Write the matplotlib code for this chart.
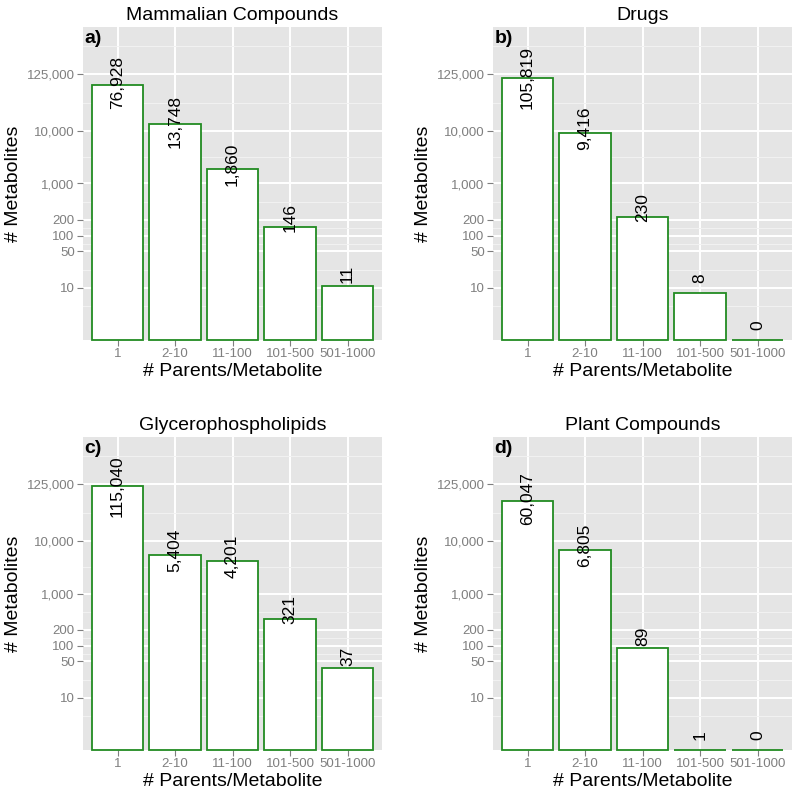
import numpy as np
import matplotlib
matplotlib.use("Agg")
import matplotlib.pyplot as plt
from matplotlib.ticker import FixedLocator, NullFormatter

plt.rcParams['font.family'] = ['Liberation Sans', 'DejaVu Sans']

categories = ["1", "2-10", "11-100", "101-500", "501-1000"]
titles = ["Mammalian Compounds", "Drugs", "Glycerophospholipids", "Plant Compounds"]
letters = ["a)", "b)", "c)", "d)"]
mammalian = [76928, 13748, 1860, 146, 11]
drugs = [105819, 9416, 230, 8, 0]
glycero = [115040, 5404, 4201, 321, 37]
plant = [60047, 6805, 89, 1, 0]
y_ticks = [10, 50, 100, 200, 1000, 10000, 125000]

all_counts = [mammalian, drugs, glycero, plant]

W, H = 800, 796
fig = plt.figure(figsize=(W / 100, H / 100), dpi=100)

# panel boxes in pixels: left, top, right, bottom
boxes = [(83, 27, 382, 340), (493, 27, 792, 340),
         (83, 437, 382, 750), (493, 437, 792, 750)]

green = "#228B22"
grey_txt = "#7F7F7F"
label_size = 12.5

# ggplot-style minor breaks (midpoints in log space)
lt = np.log10(y_ticks)
mids = list((lt[:-1] + lt[1:]) / 2)
mids = [lt[0] - (lt[1] - lt[0]) / 2] + mids + [lt[-1] + (lt[-1] - lt[-2]) / 2]
minor = [10 ** m for m in mids]

for i, counts in enumerate(all_counts):
    l, t, r, b = boxes[i]
    ax = fig.add_axes([l / W, 1 - b / H, (r - l) / W, (b - t) / H])
    ax.set_facecolor("#E5E5E5")
    for s in ax.spines.values():
        s.set_visible(False)

    x = np.arange(len(categories))
    vals = np.maximum(np.array(counts, dtype=float), 1)
    ax.set_yscale("log")
    ax.bar(x, vals - 1, bottom=1, width=0.9, color="white",
           edgecolor=green, linewidth=1.3, zorder=3, clip_on=False)

    # labels were right-padded to 7 chars in the original, which shifts short ones up
    for xi, v, c in zip(x, vals, counts):
        txt = f"{c:,}"
        shift = (7 - len(txt)) * 0.278 * label_size / 2
        ax.annotate(txt, (xi, v), xytext=(0, shift), textcoords="offset points",
                    rotation=90, ha="center", va="center",
                    fontsize=label_size, color="black", zorder=4)

    ax.set_xlim(-0.6, len(categories) - 0.4)
    ax.set_ylim(1, 1e6)
    ax.set_xticks(x)
    ax.set_xticklabels(categories)
    ax.yaxis.set_major_locator(FixedLocator(y_ticks))
    ax.set_yticklabels([f"{v:,}" for v in y_ticks])
    ax.yaxis.set_minor_locator(FixedLocator(minor))
    ax.yaxis.set_minor_formatter(NullFormatter())
    ax.tick_params(axis="both", which="major", colors=grey_txt, labelsize=9.5,
                   length=4, width=0.8, pad=2)
    ax.tick_params(axis="y", which="minor", length=0)
    ax.grid(True, which="major", color="white", linewidth=1.4, zorder=0)
    ax.grid(True, which="minor", axis="y", color="#F2F2F2", linewidth=0.7, zorder=0)
    ax.set_axisbelow(True)

    ax.set_title(titles[i], fontsize=14, pad=5)
    ax.set_xlabel("# Parents/Metabolite", fontsize=14, labelpad=2)
    ax.set_ylabel("# Metabolites", fontsize=14, labelpad=3)
    ax.text(0.005, 0.99, letters[i], transform=ax.transAxes, ha="left", va="top",
            fontsize=14, fontweight="bold", zorder=5)

fig.savefig("out.png", dpi=100)
